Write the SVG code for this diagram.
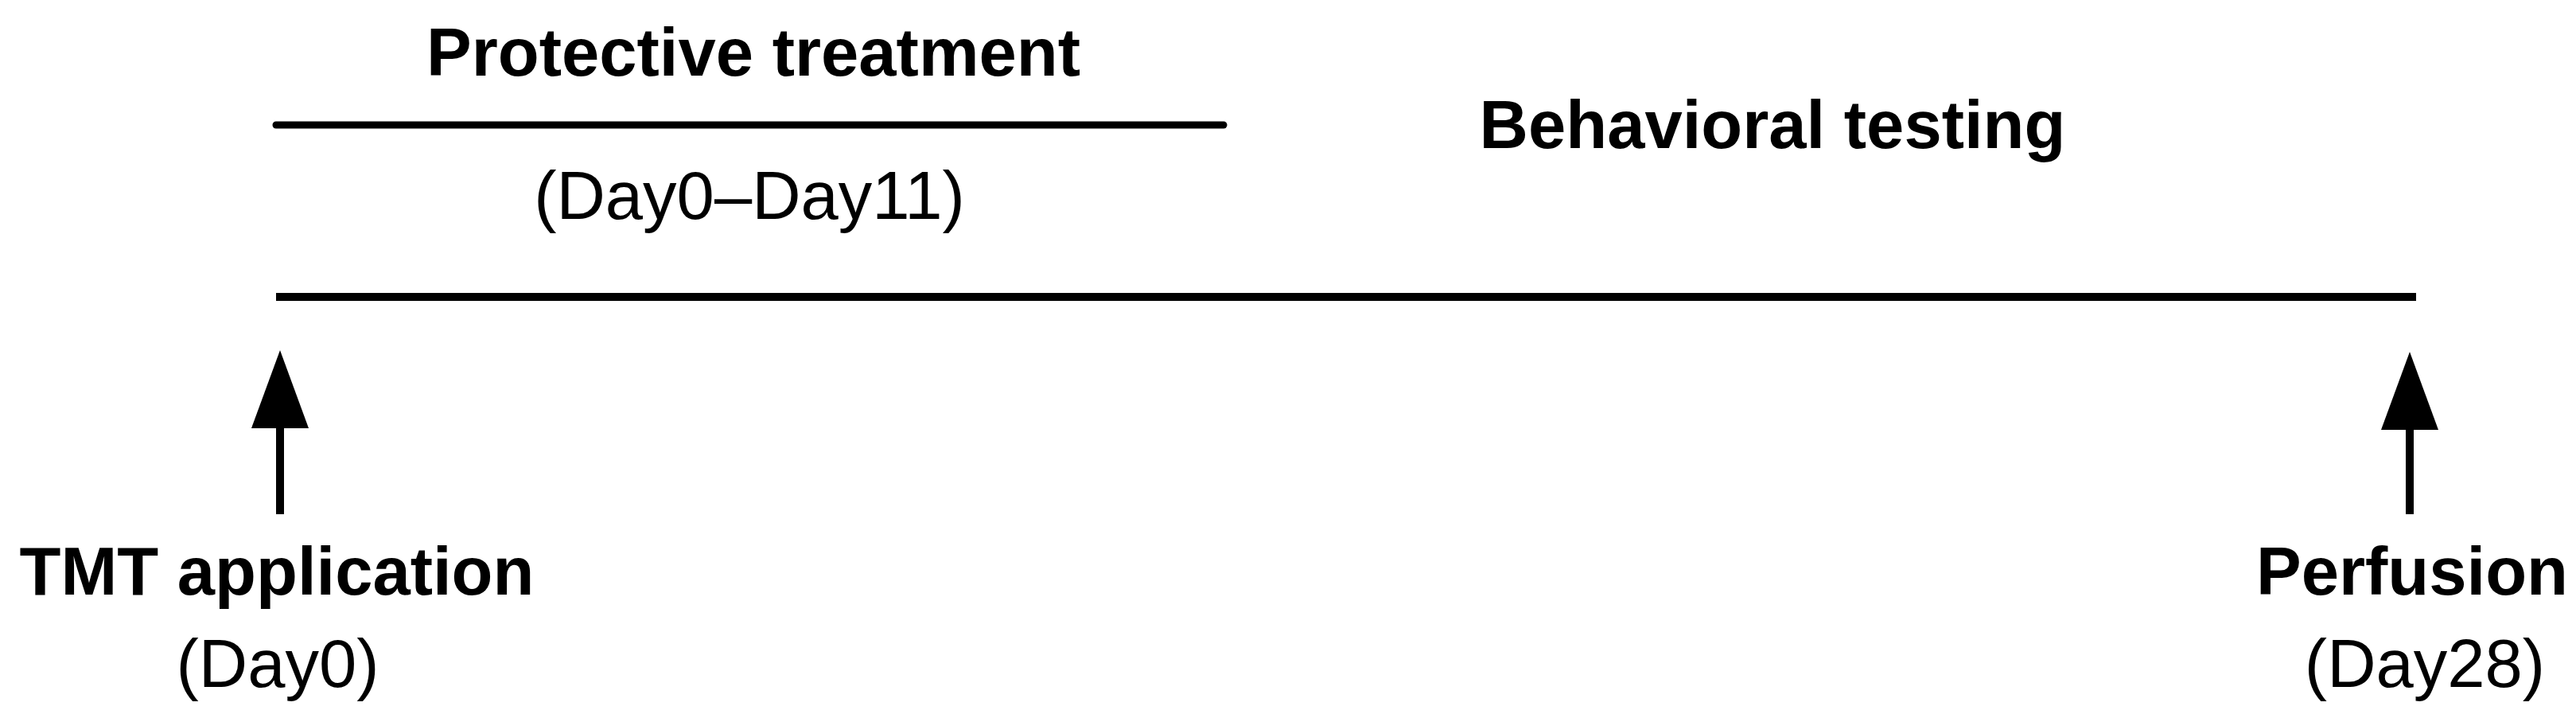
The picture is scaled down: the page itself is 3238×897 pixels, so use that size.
<svg xmlns="http://www.w3.org/2000/svg" width="3238" height="897" viewBox="0 0 3238 897">
<style>
.b{font-family:"Liberation Sans",Arial,sans-serif;font-weight:bold;font-size:85px;fill:#000;text-anchor:middle}
.r{font-family:"Liberation Sans",Arial,sans-serif;font-size:85px;fill:#000;text-anchor:middle}
.ln{stroke:#000;fill:none}
</style>
<defs>
<marker id="ah" markerUnits="userSpaceOnUse" markerWidth="72" markerHeight="98" refX="36" refY="98" orient="0" viewBox="0 0 72 98">
<polygon points="36,0 72,98 0,98" fill="#000"/>
</marker>
</defs>
<rect width="3238" height="897" fill="#fff"/>
<g id="connectors">
<line class="ln" x1="347" y1="157" x2="1538" y2="157" stroke-width="9" stroke-linecap="round"/>
<line class="ln" x1="347" y1="373" x2="3037" y2="373" stroke-width="10"/>
<line class="ln" x1="352" y1="646" x2="352" y2="538" stroke-width="10" marker-end="url(#ah)"/>
<line class="ln" x1="3029" y1="646" x2="3029" y2="540" stroke-width="10" marker-end="url(#ah)"/>
</g>
<g id="protective">
<text class="b" x="947" y="95">Protective treatment</text>
<text class="r" x="942" y="275">(Day0–Day11)</text>
</g>
<g id="behavioral">
<text class="b" x="2228" y="186">Behavioral testing</text>
</g>
<g id="tmt">
<text class="b" x="348" y="747">TMT application</text>
<text class="r" x="349" y="863">(Day0)</text>
</g>
<g id="perfusion">
<text class="b" x="3032" y="747">Perfusion</text>
<text class="r" x="3048" y="863">(Day28)</text>
</g>
</svg>
